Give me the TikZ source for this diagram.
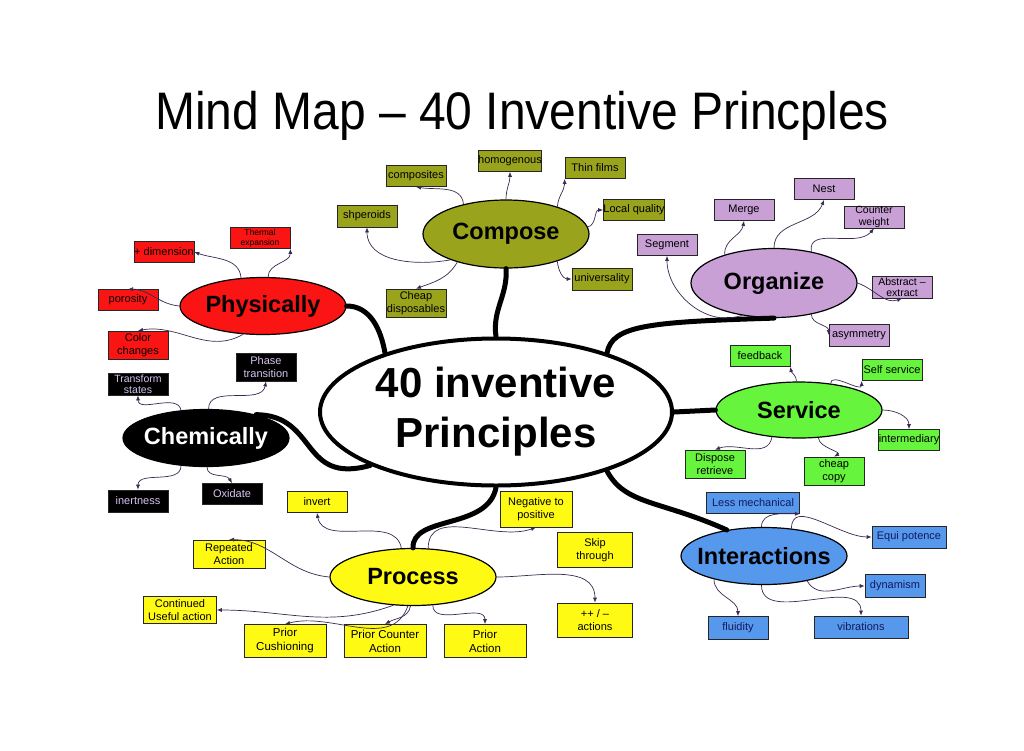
\documentclass[tikz,border=0pt]{standalone}
\usepackage{fontspec}
\setmainfont{Liberation Sans}
\usepackage{xcolor}
\usetikzlibrary{arrows.meta,shapes.geometric}

\definecolor{olivebox}{RGB}{153,163,28}
\definecolor{lilacbox}{RGB}{200,160,214}
\definecolor{greenbox}{RGB}{102,245,60}
\definecolor{bluebox}{RGB}{86,152,236}
\definecolor{yellowbox}{RGB}{255,250,20}
\definecolor{redbox}{RGB}{250,20,20}
\definecolor{linkcol}{RGB}{60,40,80}
\definecolor{lavtext}{RGB}{215,195,240}
\definecolor{navytext}{RGB}{20,25,95}

\begin{document}
\begin{tikzpicture}[x=1pt, y=-1pt,
  hub/.style={ellipse, draw=black, line width=1.2pt, inner ysep=0pt, inner xsep=-8pt,
    minimum width=166pt, minimum height=57pt,
    font=\bfseries\fontsize{23.5}{26}\selectfont},
  leaf/.style={rectangle, draw=black!85, line width=0.7pt, inner sep=0pt,
    minimum width=60pt, minimum height=21pt, align=center,
    font=\fontsize{11}{13}\selectfont},
  big/.style={minimum width=82pt, minimum height=33pt, font=\fontsize{11.5}{14}\selectfont},
  tight/.style={font=\fontsize{10.5}{11.5}\selectfont},
  arr/.style={-{Latex[length=5pt,width=4pt]}, line width=0.7pt, draw=linkcol},
  branch/.style={line width=5pt, draw=black, line cap=round},
]
  \useasboundingbox (0,0) rectangle (1024,750);

  \node (title) at (522,116) {\scalebox{1}[1.1]{\fontsize{48}{52}\selectfont Mind Map -- 40 Inventive Princples}};

  % hub and main branches
  \node[ellipse, draw=black, line width=4pt, minimum width=352pt, minimum height=147pt,
    inner sep=0pt, align=center, font=\bfseries\fontsize{42}{50}\selectfont] (cen) at (496,412)
    {40 inventive\\Principles};

  \node[hub, fill=redbox]    (phys)  at (263,306) {Physically};
  \node[hub, fill=black, text=white] (chem) at (206,438) {Chemically};
  \node[hub, fill=olivebox, minimum height=68pt] (comp) at (506,234) {Compose};
  \node[hub, fill=lilacbox, minimum height=69pt] (org)  at (774,283) {Organize};
  \node[hub, fill=greenbox, minimum height=56pt] (serv) at (799,410) {Service};
  \node[hub, fill=bluebox]   (inter) at (764,556) {Interactions};
  \node[hub, fill=yellowbox] (proc)  at (413,577) {Process};

  \draw[branch] (cen.152) to[out=100,in=0] (phys.east);
  \draw[branch] (cen.north) .. controls (492,310) and (508,295) .. (comp.south);
  \draw[branch] (cen.28) .. controls (612,325) and (650,322) .. (org.south);
  \draw[branch] (cen.east) -- (serv.west);
  \draw[branch] (cen.-28) .. controls (625,505) and (660,500) .. (inter.145);
  \draw[branch] (cen.south) .. controls (488,530) and (412,515) .. (proc.north);
  \draw[branch] (cen.203) .. controls (300,485) and (318,415) .. (chem.25);

  % Physically
  \node[leaf, fill=redbox] (dim)   at (164,252) {+ dimension};
  \node[leaf, fill=redbox, font=\fontsize{8.5}{10}\selectfont] (therm) at (260,238) {Thermal\\expansion};
  \node[leaf, fill=redbox] (poros) at (128,300) {porosity};
  \node[leaf, fill=redbox, minimum height=28pt] (color) at (138,345) {Color\\changes};
  \draw[arr] (phys.128) to[out=95,in=-20] (dim.east);
  \draw[arr] (phys.80) to[out=90,in=-90] (therm.south east);
  \draw[arr] (phys.west) to[out=175,in=0] (poros.north);
  \draw[arr] (phys.235) to[out=210,in=10] (color.north);

  % Chemically
  \node[leaf, tight, fill=black, text=lavtext, minimum height=22pt] (trans) at (138,384) {Transform\\states};
  \node[leaf, fill=black, text=lavtext, minimum height=28pt] (phase) at (266,367) {Phase\\transition};
  \node[leaf, fill=black, text=lavtext, minimum height=22pt] (inert) at (138,501) {inertness};
  \node[leaf, fill=black, text=lavtext] (oxid) at (232,494) {Oxidate};
  \draw[arr] (chem.132) to[out=100,in=-90] (trans.south);
  \draw[arr] (chem.85) to[out=90,in=-100] (phase.south);
  \draw[arr] (chem.228) to[out=-90,in=90] (inert.north);
  \draw[arr] (chem.-88) to[out=-90,in=120] (oxid.north);

  % Compose
  \node[leaf, fill=olivebox] (compo) at (416,176) {composites};
  \node[leaf, fill=olivebox] (homog) at (510,161) {homogenous};
  \node[leaf, fill=olivebox] (thin)  at (595,168) {Thin films};
  \node[leaf, fill=olivebox] (local) at (634,210) {Local quality};
  \node[leaf, fill=olivebox, minimum height=22pt] (univ) at (602,279) {universality};
  \node[leaf, fill=olivebox, minimum height=22pt] (shper) at (367,216) {shperoids};
  \node[leaf, fill=olivebox, minimum height=28pt] (cheap) at (416,303) {Cheap\\disposables};
  \draw[arr] (comp.145) to[out=95,in=-10] (compo.south);
  \draw[arr] (comp.north) to[out=90,in=-90] (homog.south);
  \draw[arr] (comp.28) to[out=85,in=-90] (thin.south west);
  \draw[arr] (comp.-28) to[out=-85,in=180] (univ.west);
  \draw[arr] (comp.5) to[out=10,in=180] (local.west);
  \draw[arr] (comp.205) to[out=190,in=-90] (shper.south);
  \draw[arr] (comp.210) to[out=-120,in=20] (cheap.north);

  % Organize
  \node[leaf, fill=lilacbox] (seg)     at (667,245) {Segment};
  \node[leaf, fill=lilacbox] (merge)   at (744,210) {Merge};
  \node[leaf, fill=lilacbox] (nest)    at (824,189) {Nest};
  \node[leaf, tight, fill=lilacbox, minimum height=22pt] (counter) at (874,217) {Counter\\weight};
  \node[leaf, tight, fill=lilacbox, minimum height=22pt] (abstr) at (902,287) {Abstract --\\extract};
  \node[leaf, fill=lilacbox, minimum height=22pt] (asym) at (859,335) {asymmetry};
  \draw[arr] (org.225) to[out=200,in=-90] (seg.south);
  \draw[arr] (org.150) to[out=95,in=-100] (merge.south);
  \draw[arr] (org.north) to[out=90,in=-110] (nest.south);
  \draw[arr] (org.40) to[out=100,in=-130] (counter.south);
  \draw[arr] (org.east) to[out=-20,in=200] (abstr.south);
  \draw[arr] (org.-40) to[out=-90,in=90] (asym.west);

  % Service
  \node[leaf, fill=greenbox] (feed)   at (760,356) {feedback};
  \node[leaf, fill=greenbox] (self)   at (892,370) {Self service};
  \node[leaf, fill=greenbox] (interm) at (909,440) {intermediary};
  \node[leaf, fill=greenbox, minimum height=28pt] (dispo) at (715,464) {Dispose\\retrieve};
  \node[leaf, fill=greenbox, minimum height=28pt] (ccopy) at (834,471) {cheap\\copy};
  \draw[arr] (serv.95) to[out=90,in=-80] (feed.south east);
  \draw[arr] (serv.40) to[out=90,in=-90] (self.south west);
  \draw[arr] (serv.east) to[out=0,in=90] (interm.north);
  \draw[arr] (serv.225) to[out=-100,in=20] (dispo.north);
  \draw[arr] (serv.-55) to[out=-90,in=30] (ccopy.north);

  % Interactions
  \node[leaf, fill=bluebox, text=navytext, minimum width=93pt] (lessm) at (753,503) {Less mechanical};
  \node[leaf, fill=bluebox, text=navytext, minimum width=74pt, minimum height=22pt] (equi) at (909,537) {Equi potence};
  \node[leaf, fill=bluebox, text=navytext, minimum height=23pt] (dyna) at (895,586) {dynamism};
  \node[leaf, fill=bluebox, text=navytext, minimum height=23pt] (fluid) at (738,628) {fluidity};
  \node[leaf, fill=bluebox, text=navytext, minimum width=94pt, minimum height=22pt] (vibr) at (861,627) {vibrations};
  \draw[arr] (inter.95) to[out=90,in=180] (lessm.south east);
  \draw[arr] (inter.45) to[out=90,in=180] (equi.west);
  \draw[arr] (inter.-30) to[out=-60,in=180] (dyna.west);
  \draw[arr] (inter.205) to[out=-90,in=90] (fluid.north);
  \draw[arr] (inter.-95) to[out=-90,in=90] (vibr.north);

  % Process
  \node[leaf, fill=yellowbox] (invert) at (317,502) {invert};
  \node[leaf, fill=yellowbox, minimum width=72pt, minimum height=28pt] (repeat) at (229,554) {Repeated\\Action};
  \node[leaf, fill=yellowbox, minimum width=73pt, minimum height=27pt] (contin) at (180,610) {Continued\\Useful action};
  \node[leaf, fill=yellowbox, big] (pcush)  at (285,641) {Prior\\Cushioning};
  \node[leaf, fill=yellowbox, big] (pcount) at (385,641) {Prior Counter\\Action};
  \node[leaf, fill=yellowbox, big] (pact)   at (485,641) {Prior\\Action};
  \node[leaf, fill=yellowbox, minimum width=72pt, minimum height=36pt] (neg) at (536,509) {Negative to\\positive};
  \node[leaf, fill=yellowbox, minimum width=75pt, minimum height=35pt] (skip) at (595,550) {Skip\\through};
  \node[leaf, fill=yellowbox, minimum width=75pt, minimum height=34pt] (plus) at (595,620) {++ / --\\actions};
  \draw[arr] (proc.112) to[out=100,in=-80] (invert.south);
  \draw[arr] (proc.west) to[out=175,in=0] (repeat.north);
  \draw[arr] (proc.235) to[out=200,in=0] (contin.east);
  \draw[arr] (proc.-100) to[out=-110,in=15] (pcush.north);
  \draw[arr] (proc.-95) to[out=-100,in=30] (pcount.north);
  \draw[arr] (proc.-55) to[out=-90,in=90] (pact.north);
  \draw[arr] (proc.62) to[out=90,in=-160] (neg.south);
  \draw[arr] (proc.east) to[out=0,in=90] (plus.north);
\end{tikzpicture}
\end{document}
